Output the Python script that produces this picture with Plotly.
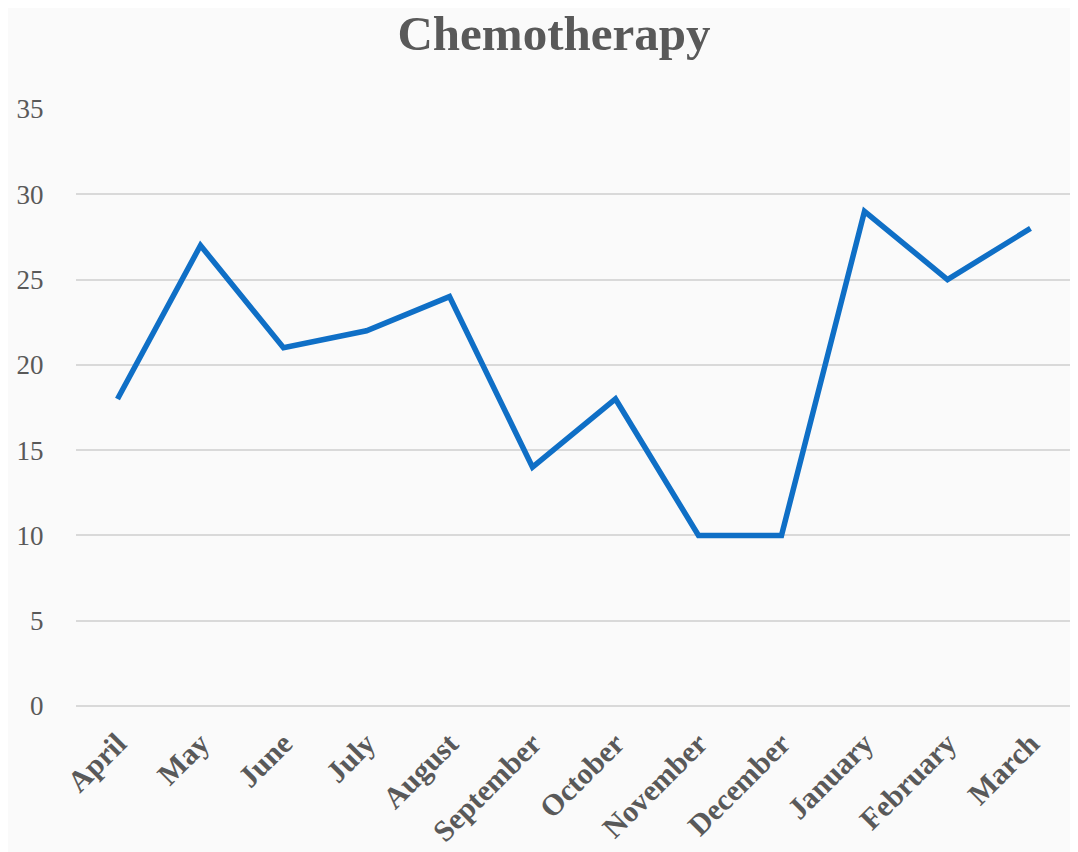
import plotly.graph_objects as go

months = ["April", "May", "June", "July", "August", "September", "October",
          "November", "December", "January", "February", "March"]
values = [18, 27, 21, 22, 24, 14, 18, 10, 10, 29, 25, 28]
y_ticks = [0, 5, 10, 15, 20, 25, 30, 35]

text_color = "#595959"
font_family = "Liberation Serif"

fig = go.Figure()
fig.add_trace(go.Scatter(
    x=months, y=values, mode="lines",
    line=dict(color="#0F6FC6", width=5.5),
    hoverinfo="x+y", showlegend=False,
))

fig.update_layout(
    width=1078, height=852,
    paper_bgcolor="#fafafa", plot_bgcolor="rgba(0,0,0,0)",
    margin=dict(l=68, r=14, t=101, b=154, autoexpand=False),
    title=dict(text="<b>Chemotherapy</b>", x=0.5065, xanchor="center",
               y=0.971, yanchor="middle",
               font=dict(family=font_family, size=49, color=text_color)),
    xaxis=dict(type="category", range=[-0.5, 11.5], showgrid=False,
               automargin=False,
               zeroline=False, showline=False, tickangle=-45,
               ticks="outside", ticklen=7, tickcolor="rgba(0,0,0,0)",
               tickfont=dict(family=font_family, size=30, color=text_color,
                             weight="bold")),
    yaxis=dict(range=[0, 35], tickvals=y_ticks, showgrid=True,
               automargin=False,
               gridcolor="#d9d9d9", gridwidth=1.6, zeroline=True,
               zerolinecolor="#d9d9d9", zerolinewidth=1.6, showline=False,
               ticks="outside", ticklen=26, tickcolor="rgba(0,0,0,0)",
               tickfont=dict(family=font_family, size=27, color=text_color)),
)

fig.write_html("out.html")
